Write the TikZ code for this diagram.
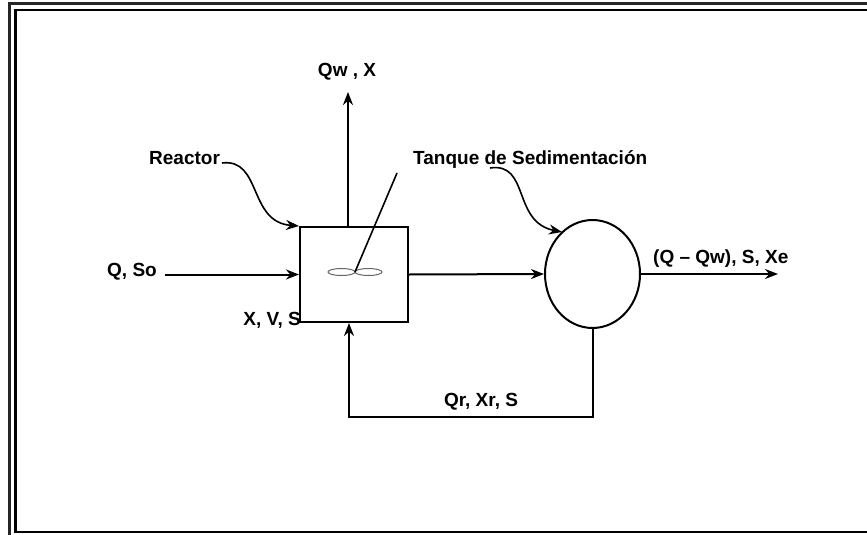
\documentclass[tikz,border=0pt]{standalone}
\usepackage{fontspec}
\setmainfont{Liberation Sans}
\usetikzlibrary{arrows.meta,shapes.geometric}
\tikzset{
  lbl/.style={font=\fontsize{19}{22}\selectfont\bfseries, inner sep=0pt},
  ln/.style={line width=2pt},
  arr/.style={ln, -{Stealth[length=13pt,width=10pt]}},
  frame/.style={draw, line width=2.8pt},
}
\begin{document}
\begin{tikzpicture}[x=1pt,y=-1pt]
\useasboundingbox (0,0) rectangle (867,535);
\clip (0,0) rectangle (867,535);
% frame
\draw[line width=2.2pt, black!85] (9.5,3.5) rectangle (890,545);
\draw[frame] (15.5,10) rectangle (880,532);
% reactor
\node[draw, ln, minimum width=108pt, minimum height=95pt, inner sep=0pt] (reactor) at (354,274.5) {};
\node[draw, ellipse, line width=1pt, black!60, minimum width=27pt, minimum height=7pt, inner sep=0pt] (blade1) at (341.5,272) {};
\node[draw, ellipse, line width=1pt, black!60, minimum width=27pt, minimum height=7pt, inner sep=0pt] (blade2) at (368.5,272) {};
\coordinate (hub) at (355,272);
\coordinate (shaft) at (397,173);
\draw[line width=1.6pt] (hub) -- (shaft);
% tank
\node[draw, ellipse, ln, minimum width=95pt, minimum height=108pt, inner sep=0pt] (tank) at (592.5,274) {};
% labels
\node[lbl, anchor=west] (qso) at (107,272) {Q, So};
\node[lbl] (qwx) at (347,72) {Qw , X};
\node[lbl, anchor=west] (reactorlbl) at (149,158) {Reactor};
\node[lbl, anchor=west] (tanquelbl) at (413,160) {Tanque de Sedimentación};
\node[lbl, anchor=east] (xvs) at (301,320) {X, V, S};
\node[lbl, anchor=west] (out) at (653,259) {(Q – Qw), S, Xe};
\node[lbl] (qr) at (481,402) {Qr, Xr, S};
% connectors
\coordinate (qin) at (165,274.5);
\draw[arr] (qin) -- (reactor.west);
\coordinate (qwtip) at (348,92);
\draw[arr] (qwtip |- reactor.north) -- (qwtip);
\draw[arr] (reactor.east) -- (tank.west);
\coordinate (outtip) at (778,274);
\draw[arr] (tank.east) -- (outtip);
\coordinate (rec) at (349,417);
\draw[arr] (tank.south) |- (rec) -- (rec |- reactor.south);
% pointer arrows
\coordinate (rstart) at (222,163);
\draw[arr, line width=1.6pt] (rstart) .. controls (262,158) and (248,222) .. (reactor.north west);
\coordinate (tstart) at (490,168);
\coordinate (ttip) at (562,232);
\draw[arr, line width=1.6pt] (tstart) .. controls (530,162) and (512,222) .. (ttip);
\end{tikzpicture}
\end{document}
